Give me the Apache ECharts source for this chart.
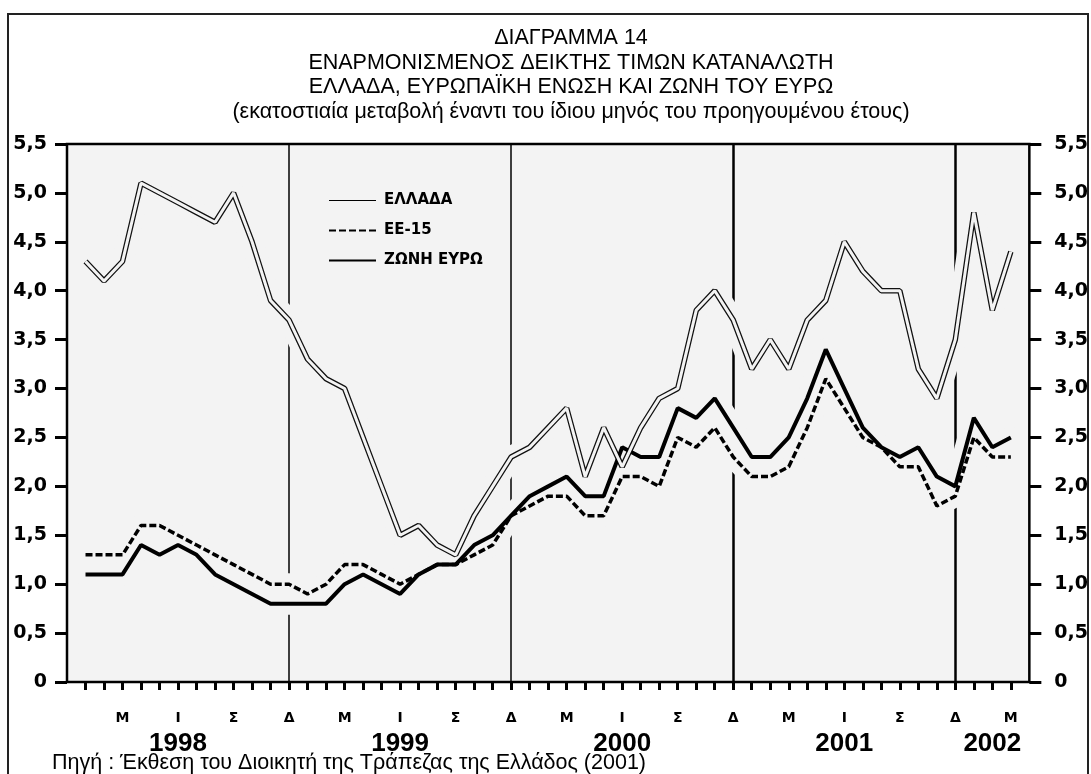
<!DOCTYPE html>
<html>
<head>
<meta charset="utf-8">
<script src="https://cdn.jsdelivr.net/npm/echarts@6/dist/echarts.min.js"></script>
<style>
  html, body { margin: 0; padding: 0; background: #fff; }
  #main { width: 1091px; height: 774px; }
</style>
</head>
<body>
<div id="main"></div>
<script>
// months Dec 1997 .. Apr 2002 (the first and last one are only padding at the frame edges)
var months = []
for (var y = 1997; y <= 2002; y++) {
  for (var m = 1; m <= 12; m++) {
    var key = y + '-' + (m < 10 ? '0' + m : m)
    if (key >= '1997-12' && key <= '2002-04') months.push(key)
  }
}

// month letters under the axis and year labels
var monthLetters = { '03': 'Μ', '06': 'Ι', '09': 'Σ', '12': 'Δ' }
var yearLabels = { '1998-06': '1998', '1999-06': '1999', '2000-06': '2000', '2001-06': '2001', '2002-02': '2002' }
var decLines = ['1998-12', '1999-12', '2000-12', '2001-12']

// Jan 1998 .. Mar 2002, % change on same month of previous year
var greece = [4.3, 4.1, 4.3, 5.1, 5.0, 4.9, 4.8, 4.7, 5.0, 4.5, 3.9, 3.7,
  3.3, 3.1, 3.0, 2.5, 2.0, 1.5, 1.6, 1.4, 1.3, 1.7, 2.0, 2.3,
  2.4, 2.6, 2.8, 2.1, 2.6, 2.2, 2.6, 2.9, 3.0, 3.8, 4.0, 3.7,
  3.2, 3.5, 3.2, 3.7, 3.9, 4.5, 4.2, 4.0, 4.0, 3.2, 2.9, 3.5,
  4.8, 3.8, 4.4]
var eu15 = [1.3, 1.3, 1.3, 1.6, 1.6, 1.5, 1.4, 1.3, 1.2, 1.1, 1.0, 1.0,
  0.9, 1.0, 1.2, 1.2, 1.1, 1.0, 1.1, 1.2, 1.2, 1.3, 1.4, 1.7,
  1.8, 1.9, 1.9, 1.7, 1.7, 2.1, 2.1, 2.0, 2.5, 2.4, 2.6, 2.3,
  2.1, 2.1, 2.2, 2.6, 3.1, 2.8, 2.5, 2.4, 2.2, 2.2, 1.8, 1.9,
  2.5, 2.3, 2.3]
var euroArea = [1.1, 1.1, 1.1, 1.4, 1.3, 1.4, 1.3, 1.1, 1.0, 0.9, 0.8, 0.8,
  0.8, 0.8, 1.0, 1.1, 1.0, 0.9, 1.1, 1.2, 1.2, 1.4, 1.5, 1.7,
  1.9, 2.0, 2.1, 1.9, 1.9, 2.4, 2.3, 2.3, 2.8, 2.7, 2.9, 2.6,
  2.3, 2.3, 2.5, 2.9, 3.4, 3.0, 2.6, 2.4, 2.3, 2.4, 2.1, 2.0,
  2.7, 2.4, 2.5]

var titleLines = [
  'ΔΙΑΓΡΑΜΜΑ 14',
  'ΕΝΑΡΜΟΝΙΣΜΕΝΟΣ ΔΕΙΚΤΗΣ ΤΙΜΩΝ ΚΑΤΑΝΑΛΩΤΗ',
  'ΕΛΛΑΔΑ, ΕΥΡΩΠΑΪΚΗ ΕΝΩΣΗ ΚΑΙ ΖΩΝΗ ΤΟΥ ΕΥΡΩ',
  '(εκατοστιαία μεταβολή έναντι του ίδιου μηνός του προηγουμένου έτους)'
]
var sourceText = 'Πηγή : Έκθεση του Διοικητή της Τράπεζας της Ελλάδος (2001)'

var BG = '#f3f3f3'
var BOLD = 'DejaVu Sans'

function pad(arr) {
  return [null].concat(arr, [null])
}

function yLabel(v) {
  return v === 0 ? '0' : v.toFixed(1).replace('.', ',')
}

var yAxisBase = {
  type: 'value',
  min: 0,
  max: 5.5,
  interval: 0.5,
  splitLine: { show: false },
  axisLine: { show: false },
  axisTick: { show: true, length: 12, lineStyle: { color: '#000', width: 3 } },
}

var chart = echarts.init(document.getElementById('main'))
chart.setOption({
  animation: false,
  backgroundColor: '#fff',
  grid: {
    left: 67,
    right: 60,
    top: 144,
    bottom: 92,
    show: true,
    backgroundColor: BG,
    borderColor: '#000',
    borderWidth: 2.5,
  },
  graphic: [
    {
      type: 'rect',
      shape: { x: 8, y: 14, width: 1080, height: 800 },
      style: { fill: 'none', stroke: '#222', lineWidth: 2 },
      silent: true,
    },
    {
      type: 'text',
      x: 571,
      y: 75,
      style: {
        text: titleLines.join('\n'),
        textAlign: 'center',
        textVerticalAlign: 'middle',
        font: '21.5px "Liberation Sans", Arial, sans-serif',
        lineHeight: 24.7,
        fill: '#000',
      },
    },
    {
      type: 'text',
      x: 52,
      y: 763,
      style: {
        text: sourceText,
        textVerticalAlign: 'middle',
        font: '21.5px "Liberation Sans", Arial, sans-serif',
        fill: '#000',
      },
    },
  ],
  legend: {
    orient: 'vertical',
    left: 323,
    top: 188,
    itemWidth: 47,
    itemHeight: 14,
    itemGap: 15,
    selectedMode: false,
    itemStyle: { opacity: 0 },
    textStyle: { fontFamily: BOLD, fontWeight: 'bold', fontSize: 15, color: '#000', padding: [0, 0, 0, 3] },
    data: [
      { name: 'ΕΛΛΑΔΑ', lineStyle: { width: 1.2, color: '#000' } },
      { name: 'ΕΕ-15' },
      { name: 'ΖΩΝΗ ΕΥΡΩ' },
    ],
  },
  xAxis: {
    type: 'category',
    data: months,
    boundaryGap: false,
    axisLine: { show: false },
    axisTick: {
      show: true,
      length: 8,
      interval: function (i) { return i > 0 && i < months.length - 1 },
      lineStyle: { color: '#000', width: 3 },
    },
    axisLabel: {
      interval: 0,
      margin: 26,
      color: '#000',
      formatter: function (v) {
        var letter = monthLetters[v.slice(5)]
        var year = yearLabels[v]
        if (v === months[0] || v === months[months.length - 1]) return ''
        if (year) return '{m|' + (letter || ' ') + '}\n{y|' + year + '}'
        if (letter) return '{m|' + letter + '}'
        return ''
      },
      rich: {
        m: { fontFamily: BOLD, fontWeight: 'bold', fontSize: 14, lineHeight: 20, color: '#000' },
        y: { fontFamily: '"Liberation Sans", Arial', fontWeight: 'bold', fontSize: 26, lineHeight: 32, color: '#000' },
      },
    },
    splitLine: { show: false },
  },
  yAxis: [
    Object.assign({}, yAxisBase, {
      position: 'left',
      axisLabel: { formatter: yLabel, margin: 20, fontFamily: BOLD, fontWeight: 'bold', fontSize: 19, color: '#000' },
    }),
    Object.assign({}, yAxisBase, {
      position: 'right',
      axisLabel: { formatter: yLabel, margin: 25, fontFamily: BOLD, fontWeight: 'bold', fontSize: 19, color: '#000' },
    }),
  ],
  series: [
    {
      // December separators
      name: 'dec',
      type: 'line',
      data: months.map(function () { return null }),
      z: 1,
      silent: true,
      markLine: {
        z: 1,
        silent: true,
        symbol: ['none', 'none'],
        label: { show: false },
        lineStyle: { color: '#000', type: 'solid' },
        data: decLines.map(function (d, i) {
          return { xAxis: d, lineStyle: { width: i < 2 ? 1.5 : 2.5 } }
        }),
      },
    },
    // light halos that cut the separators where the curves pass
    { name: 'h1', type: 'line', data: pad(greece), z: 2, silent: true, symbol: 'none', lineStyle: { color: BG, width: 22, cap: 'round', join: 'round' } },
    { name: 'h2', type: 'line', data: pad(eu15), z: 2, silent: true, symbol: 'none', lineStyle: { color: BG, width: 22, cap: 'round', join: 'round' } },
    { name: 'h3', type: 'line', data: pad(euroArea), z: 2, silent: true, symbol: 'none', lineStyle: { color: BG, width: 22, cap: 'round', join: 'round' } },
    {
      name: 'ΕΛΛΑΔΑ',
      type: 'line',
      data: pad(greece),
      z: 3,
      symbol: 'none',
      itemStyle: { color: '#000' },
      lineStyle: { color: '#111', width: 5.5 },
    },
    {
      name: 'ΕΕ-15',
      type: 'line',
      data: pad(eu15),
      z: 3,
      symbol: 'none',
      itemStyle: { color: '#000' },
      lineStyle: { color: '#000', width: 3.5, type: [7, 3] },
    },
    {
      name: 'ΖΩΝΗ ΕΥΡΩ',
      type: 'line',
      data: pad(euroArea),
      z: 3,
      symbol: 'none',
      itemStyle: { color: '#000' },
      lineStyle: { color: '#000', width: 4 },
    },
    {
      // hollow core of the Greece line
      name: 'core',
      type: 'line',
      data: pad(greece),
      z: 4,
      silent: true,
      symbol: 'none',
      lineStyle: { color: BG, width: 3 },
    },
  ],
})
</script>
</body>
</html>
